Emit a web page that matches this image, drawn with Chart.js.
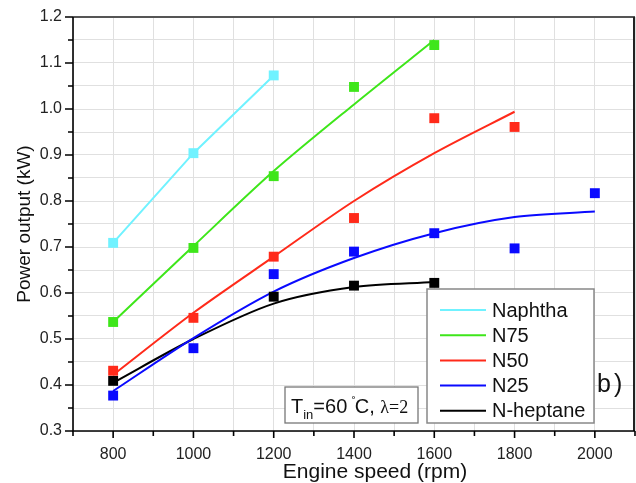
<!DOCTYPE html>
<html>
<head>
<meta charset="utf-8">
<script src="https://cdn.jsdelivr.net/npm/chart.js@4"></script>
<style>
  html, body { margin: 0; padding: 0; background: #fff; }
  #wrap { width: 636px; height: 483px; }
</style>
</head>
<body>
<div id="wrap"><canvas id="board" width="636" height="483"></canvas></div>
<script>
const rpm = [800, 1000, 1200, 1400, 1600, 1800, 2000];
const naphtha = [0.709, 0.904, 1.073];
const n75 = [0.537, 0.698, 0.854, 1.048, 1.139];
const n50 = [0.431, 0.546, 0.679, 0.763, 0.980, 0.961];
const n25 = [0.377, 0.480, 0.641, 0.690, 0.730, 0.697, 0.817];
const heptane = [0.409, null, 0.592, 0.616, 0.622];

// fitted curves at the same speeds
const naphthaFit = [0.709, 0.904, 1.073];
const n75Fit = [0.537, 0.702, 0.865, 1.010, 1.150];
const n50Fit = [0.422, 0.557, 0.679, 0.800, 0.904, 0.994];
const n25Fit = [0.387, 0.502, 0.603, 0.676, 0.730, 0.765, 0.777];
const heptaneFit = [0.405, 0.500, 0.577, 0.613, 0.624];

const names = ["Naphtha", "N75", "N50", "N25", "N-heptane"];
const colors = ["#70f2ff", "#3ee61a", "#ff2a1a", "#0a0aff", "#000000"];
const pointSets = [naphtha, n75, n50, n25, heptane];
const fitSets = [naphthaFit, n75Fit, n50Fit, n25Fit, heptaneFit];

const xTicks = [800, 1000, 1200, 1400, 1600, 1800, 2000];

const SANS = '"Liberation Sans", Arial, sans-serif';

function toXY(values) {
    let out = [];
    for (let i = 0; i < values.length; ++i) {
        if (values[i] !== null) out.push({ x: rpm[i], y: values[i] });
    }
    return out;
}

let datasets = [];
for (let i = 0; i < names.length; ++i) {
    datasets.push({
        label: names[i] + ' fit',
        data: toXY(fitSets[i]),
        borderColor: colors[i],
        borderWidth: 2,
        showLine: true,
        pointRadius: 0,
        tension: i == 0 ? 0 : 0.3,
        order: 2
    });
}
for (let i = 0; i < names.length; ++i) {
    datasets.push({
        label: names[i],
        data: toXY(pointSets[i]),
        backgroundColor: colors[i],
        borderColor: colors[i],
        borderWidth: 0,
        showLine: false,
        pointStyle: 'rect',
        pointRadius: 7,
        order: 1
    });
}

// ticks, frame, titles, legend and the annotation box
const extras = {
    id: 'extras',
    afterDraw(chart) {
        const ctx = chart.ctx;
        const a = chart.chartArea;
        const xs = chart.scales.x, ys = chart.scales.y;
        ctx.save();

        // top and right frame
        ctx.strokeStyle = '#555';
        ctx.lineWidth = 2.2;
        ctx.beginPath();
        ctx.moveTo(a.left, a.top); ctx.lineTo(a.right, a.top);
        ctx.stroke();
        ctx.strokeStyle = '#222';
        ctx.lineWidth = 2;
        ctx.beginPath();
        ctx.moveTo(a.right - 1, a.top); ctx.lineTo(a.right - 1, a.bottom);
        ctx.stroke();

        // left and bottom axis with tick marks
        ctx.strokeStyle = '#000';
        ctx.lineWidth = 1.6;
        ctx.beginPath();
        ctx.moveTo(a.left, a.top); ctx.lineTo(a.left, a.bottom); ctx.lineTo(a.right, a.bottom);
        ctx.stroke();
        ctx.beginPath();
        for (let v = 700; v <= 2100; v += 100) {
            const px = xs.getPixelForValue(v);
            const len = (v % 200 == 0) ? 7 : 5;
            ctx.moveTo(px, a.bottom); ctx.lineTo(px, a.bottom + len);
        }
        for (let k = 0; k <= 18; ++k) {
            const v = 0.3 + k * 0.05;
            const py = ys.getPixelForValue(v);
            const len = (k % 2 == 0) ? 8 : 5;
            ctx.moveTo(a.left, py); ctx.lineTo(a.left - len, py);
        }
        ctx.stroke();

        // axis titles
        ctx.fillStyle = '#111';
        ctx.textAlign = 'center';
        ctx.textBaseline = 'alphabetic';
        ctx.font = '21px ' + SANS;
        ctx.fillText('Engine speed (rpm)', 375, 478);
        ctx.save();
        ctx.translate(30, (a.top + a.bottom) / 2);
        ctx.rotate(-Math.PI / 2);
        ctx.font = '19px ' + SANS;
        ctx.fillText('Power output (kW)', 0, 0);
        ctx.restore();

        // legend box
        const lx = 427, ly = 289, lw = 167, lh = 134;
        ctx.fillStyle = '#fff';
        ctx.fillRect(lx, ly, lw, lh);
        ctx.strokeStyle = '#888';
        ctx.lineWidth = 1.5;
        ctx.strokeRect(lx, ly, lw, lh);
        ctx.font = '20px ' + SANS;
        ctx.textBaseline = 'middle';
        ctx.textAlign = 'left';
        for (let i = 0; i < names.length; ++i) {
            const y = 310 + i * 25.2;
            ctx.strokeStyle = colors[i];
            ctx.lineWidth = 2;
            ctx.beginPath();
            ctx.moveTo(440, y); ctx.lineTo(486, y);
            ctx.stroke();
            ctx.fillStyle = '#111';
            ctx.fillText(names[i], 492, y + 1);
        }

        // condition box
        ctx.fillStyle = '#fff';
        ctx.fillRect(285, 387, 133, 36);
        ctx.strokeStyle = '#777';
        ctx.lineWidth = 1.3;
        ctx.strokeRect(285, 387, 133, 36);
        ctx.fillStyle = '#111';
        ctx.textBaseline = 'alphabetic';
        let x = 291;
        const base = 413;
        ctx.font = '20px ' + SANS;
        ctx.fillText('T', x, base); x += ctx.measureText('T').width;
        ctx.font = '13px ' + SANS;
        ctx.fillText('in', x, base + 6); x += ctx.measureText('in').width;
        ctx.font = '20px ' + SANS;
        ctx.fillText('=60 ', x, base); x += ctx.measureText('=60 ').width;
        ctx.font = '12px ' + SANS;
        ctx.fillText('˚', x - 1, base - 7); x += 2;
        ctx.font = '20px ' + SANS;
        ctx.fillText('C, ', x, base); x += ctx.measureText('C, ').width;
        ctx.font = '18px "Liberation Serif", "Times New Roman", serif';
        ctx.fillText('λ=2', x, base);

        // panel letter
        ctx.font = '25px ' + SANS;
        ctx.fillText('b', 597, 392);
        ctx.fillText(')', 614, 392);

        ctx.restore();
    }
};

function makeChart() {
    const config = {
        type: 'scatter',
        data: { datasets: datasets },
        plugins: [extras],
        options: {
            responsive: false,
            animation: false,
            layout: { autoPadding: false, padding: { top: 17, right: 1, left: 0, bottom: 0 } },
            plugins: { legend: { display: false }, tooltip: { enabled: false } },
            scales: {
                x: {
                    min: 700, max: 2100,
                    afterFit(scale) {
                        scale.height = 52;
                        scale.paddingLeft = 0;
                        scale.paddingRight = 0;
                    },
                    afterBuildTicks(scale) {
                        let t = [];
                        for (let v = 700; v <= 2100; v += 100) t.push({ value: v });
                        scale.ticks = t;
                    },
                    ticks: {
                        autoSkip: false,
                        maxRotation: 0,
                        padding: 14,
                        color: '#222',
                        font: { family: SANS, size: 16 },
                        callback: (v) => xTicks.includes(v) ? String(v) : ''
                    },
                    grid: { color: '#e0e0e0', lineWidth: 1, drawTicks: false },
                    border: { display: false },
                    title: { display: false }
                },
                y: {
                    min: 0.3, max: 1.2,
                    afterFit(scale) {
                        scale.width = 73;
                        scale.paddingTop = 0;
                        scale.paddingBottom = 0;
                    },
                    afterBuildTicks(scale) {
                        let t = [];
                        for (let k = 0; k <= 18; ++k) t.push({ value: 0.3 + k * 0.05 });
                        scale.ticks = t;
                    },
                    ticks: {
                        autoSkip: false,
                        padding: 11,
                        color: '#222',
                        font: { family: SANS, size: 16 },
                        callback: function (v, idx) { return idx % 2 == 0 ? v.toFixed(1) : ''; }
                    },
                    grid: { color: '#e0e0e0', lineWidth: 1, drawTicks: false },
                    border: { display: false },
                    title: { display: false }
                }
            }
        }
    };
    const ctx = document.getElementById('board').getContext('2d');
    new Chart(ctx, config);
}

makeChart();
</script>
</body>
</html>
